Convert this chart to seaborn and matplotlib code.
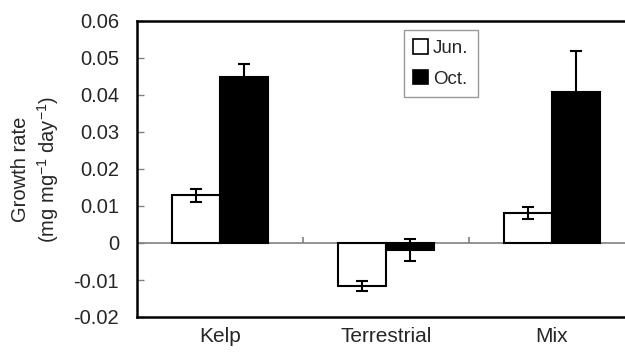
import matplotlib
matplotlib.use("Agg")
import matplotlib.pyplot as plt
import seaborn as sns
import pandas as pd
from matplotlib.patches import Patch

categories = ["Kelp", "Terrestrial", "Mix"]
months = ["Jun.", "Oct."]
jun_values = [0.0129, -0.0116, 0.0081]
oct_values = [0.0448, -0.0019, 0.0407]
jun_errors = [0.0018, 0.0013, 0.0017]
oct_errors = [0.0035, 0.0029, 0.0112]
yticks = [-0.02, -0.01, 0, 0.01, 0.02, 0.03, 0.04, 0.05, 0.06]
ytick_labels = ["-0.02", "-0.01", "0", "0.01", "0.02", "0.03", "0.04", "0.05", "0.06"]

df = pd.DataFrame({
    "Source": categories * 2,
    "Month": [months[0]] * 3 + [months[1]] * 3,
    "Rate": jun_values + oct_values,
})

sns.set_theme(style="white")
plt.rcParams["font.family"] = ["Liberation Sans", "DejaVu Sans"]
plt.rcParams["mathtext.default"] = "regular"

fig = plt.figure(figsize=(6.25, 3.57), dpi=100)
ax = fig.add_axes([137/625, 40/357, 498/625, 296/357])

sns.barplot(data=df, x="Source", y="Rate", hue="Month", order=categories,
            hue_order=months, palette=["white", "black"], edgecolor="black",
            linewidth=1.5, width=0.58, errorbar=None, legend=False, ax=ax,
            zorder=2)

for cont, errs in zip(ax.containers, [jun_errors, oct_errors]):
    xs = [b.get_x() + b.get_width() / 2 for b in cont]
    ax.errorbar(xs, [b.get_height() for b in cont], yerr=errs, fmt="none",
                ecolor="black", elinewidth=1.5, capsize=4, capthick=1.5, zorder=3)

ax.axhline(0, color="#808080", lw=1.2, zorder=1)
ax.vlines([0.5, 1.5, 2.5], 0, 0.0016, color="#808080", lw=1.2, zorder=1)

ax.set_xlim(-0.5, 2.5)
ax.set_ylim(-0.02, 0.06)
ax.set_yticks(yticks)
ax.set_yticklabels(ytick_labels)
ax.tick_params(axis="y", direction="in", length=5, width=1, color="#808080",
               pad=13, labelsize=14.5, left=True)
ax.tick_params(axis="x", length=0, pad=7, labelsize=15)
ax.set_xlabel("")
ax.set_ylabel("Growth rate\n(mg mg$^{-1}$ day$^{-1}$)", fontsize=14.5,
              linespacing=1.25)
ax.yaxis.set_label_coords(-0.152, 0.5)

for s in ["left", "top", "bottom"]:
    ax.spines[s].set_color("black")
    ax.spines[s].set_linewidth(1.8)
ax.spines["right"].set_visible(False)

handles = [Patch(facecolor="white", edgecolor="black", lw=1.2, label=months[0]),
           Patch(facecolor="black", edgecolor="black", lw=1.2, label=months[1])]
leg = ax.legend(handles=handles, loc="upper left", bbox_to_anchor=(0.536, 0.97),
                frameon=True, fancybox=False, edgecolor="#808080", fontsize=13.5,
                handlelength=0.8, handleheight=0.8, handletextpad=0.25,
                borderpad=0.5, labelspacing=0.7, borderaxespad=0)
leg.get_frame().set_linewidth(1.0)

fig.savefig("out.png", dpi=100, facecolor="white")
